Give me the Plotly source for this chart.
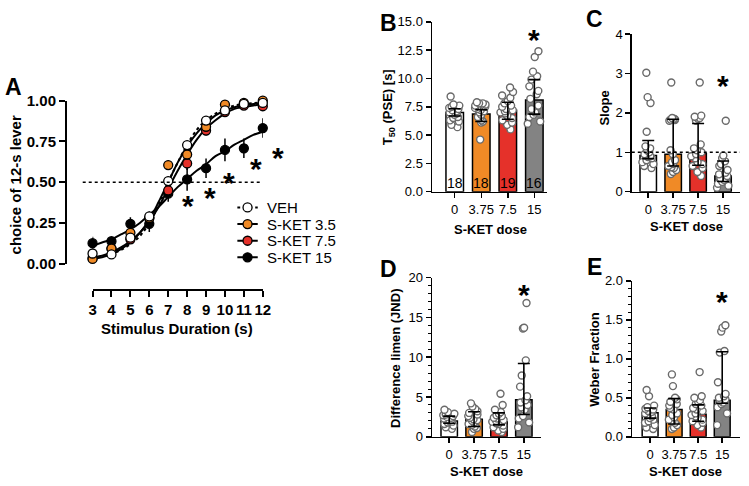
import plotly.graph_objects as go

W, H = 749, 486
FONT = "Liberation Sans, Arial, sans-serif"

# ---------------- Panel A data ----------------
DUR = [3, 4, 5, 6, 7, 8, 9, 10, 11, 12]
VEH = [0.063, 0.057, 0.16, 0.29, 0.507, 0.728, 0.878, 0.94, 0.98, 0.986]
VEH_SEM = [0.015, 0.01, 0.02, 0.03, 0.03, 0.025, 0.02, 0.015, 0.01, 0.01]
K35 = [0.03, 0.093, 0.19, 0.28, 0.605, 0.67, 0.84, 0.976, 0.986, 1.0]
K35_SEM = [0.01, 0.015, 0.02, 0.03, 0.03, 0.03, 0.02, 0.015, 0.01, 0.01]
K75 = [0.034, 0.093, 0.15, 0.28, 0.45, 0.615, 0.817, 0.93, 0.97, 0.966]
K75_SEM = [0.01, 0.015, 0.02, 0.03, 0.03, 0.04, 0.03, 0.02, 0.015, 0.015]
K15 = [0.126, 0.138, 0.245, 0.245, 0.43, 0.517, 0.586, 0.698, 0.708, 0.832]
K15_SEM = [0.04, 0.02, 0.04, 0.05, 0.05, 0.07, 0.06, 0.07, 0.06, 0.06]

FIT_X = [3, 3.5, 4, 4.5, 5, 5.5, 6, 6.5, 7, 7.5, 8, 8.5, 9, 9.5, 10, 10.5, 11, 11.5, 12]
FIT_VEH = [0.035, 0.045, 0.06, 0.085, 0.12, 0.17, 0.25, 0.36, 0.5, 0.62, 0.73, 0.82, 0.88,
           0.92, 0.95, 0.97, 0.98, 0.985, 0.99]
FIT_K35 = [0.03, 0.04, 0.06, 0.09, 0.13, 0.19, 0.27, 0.38, 0.5, 0.62, 0.72, 0.8, 0.86,
           0.91, 0.94, 0.96, 0.97, 0.98, 0.985]
FIT_K75 = [0.04, 0.05, 0.07, 0.1, 0.14, 0.19, 0.26, 0.35, 0.46, 0.57, 0.67, 0.76, 0.83,
           0.88, 0.92, 0.95, 0.96, 0.97, 0.98]
FIT_K15 = [0.11, 0.13, 0.15, 0.18, 0.21, 0.25, 0.3, 0.35, 0.41, 0.47, 0.52, 0.57, 0.61,
           0.66, 0.69, 0.73, 0.76, 0.79, 0.81]

SERIES_NAMES = ["VEH", "S-KET 3.5", "S-KET 7.5", "S-KET 15"]

# ---------------- Bar panels data ----------------
DOSES = ["0", "3.75", "7.5", "15"]

B_BAR = [7.0, 6.85, 7.2, 8.1]
B_LO = [6.68, 6.2, 6.4, 6.85]
B_HI = [7.33, 7.25, 7.9, 9.9]
B_DOTS = [
    [8.4, 7.7, 7.6, 7.5, 7.4, 7.3, 7.2, 7.1, 7.0, 7.0, 6.9, 6.8, 6.6, 6.5, 6.3, 6.2, 5.9, 5.7],
    [7.9, 7.8, 7.8, 7.7, 7.6, 7.5, 7.4, 7.3, 7.2, 7.1, 7.0, 6.8, 6.6, 6.5, 6.3, 6.2, 6.1, 4.6],
    [9.2, 8.8, 8.5, 8.3, 8.0, 7.8, 7.6, 7.5, 7.3, 7.2, 7.1, 7.0, 6.9, 6.7, 6.5, 6.3, 6.1, 5.9, 5.5],
    [12.4, 11.9, 10.6, 10.2, 9.9, 9.3, 8.9, 8.6, 8.2, 7.6, 7.3, 7.0, 6.8, 6.6, 6.2, 6.0],
]

C_BAR = [0.92, 0.95, 0.97, 0.4]
C_LO = [0.84, 0.65, 0.67, 0.26]
C_HI = [1.3, 1.84, 1.73, 0.78]
C_DOTS = [
    [3.02, 2.4, 2.25, 1.52, 1.15, 1.1, 1.05, 1.0, 0.95, 0.92, 0.9, 0.88, 0.85, 0.8, 0.75, 0.7, 0.65, 0.6],
    [2.77, 1.87, 1.85, 1.84, 1.83, 1.82, 1.8, 1.05, 0.95, 0.8, 0.75, 0.7, 0.65, 0.62, 0.6, 0.55, 0.5, 0.45],
    [2.77, 1.93, 1.9, 1.87, 1.85, 1.8, 1.2, 1.1, 1.05, 1.0, 0.95, 0.9, 0.85, 0.75, 0.7, 0.65, 0.6, 0.5, 0.4],
    [1.8, 0.92, 0.85, 0.77, 0.7, 0.65, 0.55, 0.48, 0.44, 0.4, 0.35, 0.3, 0.25, 0.2, 0.15, 0.1],
]

D_BAR = [2.0, 2.2, 1.9, 4.65]
D_LO = [1.7, 1.3, 1.5, 2.8]
D_HI = [2.6, 3.15, 3.0, 9.2]
D_DOTS = [
    [3.4, 3.1, 2.9, 2.8, 2.7, 2.6, 2.5, 2.4, 2.3, 2.2, 2.1, 2.0, 1.9, 1.8, 1.6, 1.4, 1.2, 1.0],
    [4.2, 3.8, 3.5, 3.2, 3.0, 2.8, 2.6, 2.4, 2.2, 2.1, 2.0, 1.8, 1.6, 1.5, 1.3, 1.1, 1.0, 0.6],
    [5.4, 4.0, 3.4, 3.1, 2.9, 2.7, 2.6, 2.4, 2.3, 2.1, 2.0, 1.9, 1.7, 1.6, 1.4, 1.2, 1.0, 0.8, 0.6],
    [16.8, 13.7, 13.6, 9.6, 7.7, 6.3, 5.1, 4.6, 4.3, 4.0, 3.7, 3.4, 2.6, 2.3, 1.8, 1.2],
]

E_BAR = [0.31, 0.35, 0.29, 0.47]
E_LO = [0.24, 0.165, 0.2, 0.43]
E_HI = [0.37, 0.49, 0.41, 1.09]
E_DOTS = [
    [0.6, 0.52, 0.4, 0.38, 0.36, 0.35, 0.33, 0.32, 0.3, 0.28, 0.26, 0.24, 0.22, 0.2, 0.18, 0.15, 0.12, 0.1],
    [0.8, 0.65, 0.5, 0.48, 0.45, 0.42, 0.4, 0.37, 0.35, 0.3, 0.28, 0.25, 0.22, 0.2, 0.18, 0.15, 0.12, 0.1],
    [0.83, 0.52, 0.5, 0.47, 0.45, 0.42, 0.4, 0.37, 0.35, 0.33, 0.3, 0.28, 0.26, 0.24, 0.22, 0.2, 0.18, 0.15, 0.12],
    [1.43, 1.4, 1.35, 1.1, 1.08, 0.7, 0.55, 0.52, 0.5, 0.48, 0.46, 0.44, 0.42, 0.38, 0.3, 0.15],
]

# ---------------- styles ----------------
C_WHITE, C_ORANGE, C_RED, C_BLACK, C_GRAY = "#ffffff", "#F08A26", "#E5312A", "#000000", "#838383"
BAR_COLORS = [C_WHITE, C_ORANGE, C_RED, C_GRAY]


def fx(px):
    return px / W


def fy(py):
    return 1 - py / H


fig = go.Figure()

# ---------------- Panel A ----------------
fits = [(FIT_K15, "solid"), (FIT_K75, "solid"), (FIT_K35, "solid"), (FIT_VEH, "dot")]
for vals, dash in fits:
    fig.add_trace(go.Scatter(x=FIT_X, y=vals, mode="lines", line=dict(color="black", width=2, dash=dash, shape="spline"),
                             showlegend=False, hoverinfo="skip", xaxis="x", yaxis="y"))

pts = [(K15, K15_SEM, C_BLACK), (K75, K75_SEM, C_RED), (K35, K35_SEM, C_ORANGE), (VEH, VEH_SEM, C_WHITE)]
for vals, sem, col in pts:
    fig.add_trace(go.Scatter(x=DUR, y=vals, mode="markers", cliponaxis=False,
                             marker=dict(size=9, color=col, line=dict(color="black", width=1.3)),
                             error_y=dict(type="data", array=sem, color="black", thickness=1.5, width=0),
                             showlegend=False, xaxis="x", yaxis="y"))

# manual legend (own hidden axis): one row per series
LEG_COLORS = [C_WHITE, C_ORANGE, C_RED, C_BLACK]
LEG_DASH = ["dot", "solid", "solid", "solid"]
for i, name in enumerate(SERIES_NAMES):
    fig.add_trace(go.Scatter(x=[0, 0.5, 1], y=[i, i, i], mode="lines", cliponaxis=False,
                             line=dict(color="black", width=2, dash=LEG_DASH[i]),
                             showlegend=False, hoverinfo="skip", xaxis="x6", yaxis="y6"))
    fig.add_trace(go.Scatter(x=[0.5], y=[i], mode="markers", cliponaxis=False, name=name,
                             marker=dict(size=9, color=LEG_COLORS[i], line=dict(color="black", width=1.3)),
                             showlegend=False, hoverinfo="name", xaxis="x6", yaxis="y6"))

# ---------------- Bar panels ----------------
panels = [
    ("2", B_BAR, B_LO, B_HI, B_DOTS),
    ("3", C_BAR, C_LO, C_HI, C_DOTS),
    ("4", D_BAR, D_LO, D_HI, D_DOTS),
    ("5", E_BAR, E_LO, E_HI, E_DOTS),
]
POS = list(range(len(DOSES)))
for ax, bar, lo, hi, dots in panels:
    fig.add_trace(go.Bar(x=POS, y=bar, width=0.66, marker=dict(color=BAR_COLORS, line=dict(color="black", width=1.5)),
                         showlegend=False, xaxis="x" + ax, yaxis="y" + ax))
    bx, by = [], []
    for i, d in enumerate(dots):
        bx += [POS[i]] * len(d)
        by += d
    fig.add_trace(go.Box(x=bx, y=by, boxpoints="all", jitter=0.85, pointpos=0, width=0.66,
                         fillcolor="rgba(0,0,0,0)", line=dict(color="rgba(0,0,0,0)", width=0),
                         marker=dict(size=7, color="white", line=dict(color="#6a6a6a", width=1.4)),
                         showlegend=False, xaxis="x" + ax, yaxis="y" + ax))
    fig.add_trace(go.Scatter(x=POS, y=bar, mode="markers", marker=dict(size=1, color="rgba(0,0,0,0)"),
                             error_y=dict(type="data", symmetric=False,
                                          array=[h - m for h, m in zip(hi, bar)],
                                          arrayminus=[m - l for m, l in zip(bar, lo)],
                                          color="black", thickness=1.6, width=6),
                             showlegend=False, xaxis="x" + ax, yaxis="y" + ax))

# ---------------- axes ----------------
bold15 = dict(family=FONT, size=15, color="black", weight="bold")
reg13 = dict(family=FONT, size=13, color="black")
common = dict(showgrid=False, zeroline=False, showline=True, linecolor="black", ticks="outside",
              tickcolor="black", fixedrange=True)

layout = dict(
    width=W, height=H, margin=dict(l=0, r=0, t=0, b=0), paper_bgcolor="white", plot_bgcolor="rgba(0,0,0,0)",
    font=dict(family=FONT, color="black"), barmode="overlay", boxmode="overlay", showlegend=False,
    xaxis=dict(**common, domain=[fx(90), fx(263)], range=[3, 12], anchor="free", position=fy(291),
               tickvals=DUR, linewidth=2, tickwidth=2, ticklen=6, tickfont=bold15),
    yaxis=dict(**common, domain=[fy(264), fy(95)], range=[0, 1], anchor="free", position=fx(63),
               tickvals=[0, 0.25, 0.5, 0.75, 1.0], tickformat=".2f", linewidth=2, tickwidth=2, ticklen=6,
               tickfont=bold15),
    xaxis6=dict(domain=[fx(237), fx(258)], range=[0, 1], visible=False, fixedrange=True, anchor="y6"),
    yaxis6=dict(domain=[fy(266), fy(197)], range=[3.5, -0.5], visible=False, fixedrange=True, anchor="x6"),
)

bar_axes = {
    "2": dict(xd=[435, 552], xr=[-0.855, 3.483], yd=[189.3, 13.3], yr=[0, 15], dt=2.5, fmt=".1f", minor=None),
    "3": dict(xd=[638, 748], xr=[-0.66, 3.68], yd=[189.3, 26], yr=[0, 4], dt=1, fmt="d", minor=None),
    "4": dict(xd=[435, 546], xr=[-0.69, 3.70], yd=[443.3, 278.3], yr=[0, 20], dt=5, fmt="d", minor=1),
    "5": dict(xd=[638.3, 748], xr=[-0.75, 3.74], yd=[443.3, 281.7], yr=[0, 2], dt=0.5, fmt=".1f", minor=0.1),
}
for ax, a in bar_axes.items():
    layout["xaxis" + ax] = dict(**common, domain=[fx(a["xd"][0]), fx(a["xd"][1])], range=a["xr"], anchor="y" + ax,
                                tickvals=POS, ticktext=DOSES, linewidth=1.5, tickwidth=1.5, ticklen=5,
                                tickfont=reg13)
    yd = dict(**common, domain=[fy(a["yd"][0]), fy(a["yd"][1])], range=a["yr"], anchor="x" + ax,
              dtick=a["dt"], tick0=0, tickformat=a["fmt"], linewidth=1.5, tickwidth=1.5, ticklen=5,
              tickfont=reg13)
    if a["minor"]:
        yd["minor"] = dict(dtick=a["minor"], ticks="outside", ticklen=3, tickwidth=1, tickcolor="black",
                           showgrid=False)
    layout["yaxis" + ax] = yd

fig.update_layout(**layout)

# dotted reference lines
fig.add_shape(type="line", xref="paper", yref="y", x0=fx(80), x1=fx(260), y0=0.5, y1=0.5,
              line=dict(color="black", width=1.5, dash="dot"))
fig.add_shape(type="line", xref="x3 domain", yref="y3", x0=0, x1=1, y0=1, y1=1,
              line=dict(color="black", width=1.5, dash="dot"))

ann = []


def txt(x, y, s, size, bold=True, angle=0, xref="paper", yref="paper", yshift=0, xanchor="center"):
    ann.append(dict(x=x, y=y, xref=xref, yref=yref, text=s, showarrow=False, textangle=angle,
                    xanchor=xanchor, yanchor="middle", yshift=yshift,
                    font=dict(family=FONT, size=size, color="black", weight="bold" if bold else "normal")))


# legend labels
for i, name in enumerate(SERIES_NAMES):
    txt(fx(265), i, name, 15, bold=False, yref="y6", xanchor="left")

# panel letters
for L, px, py in [("A", 10, 81), ("B", 391, 14), ("C", 600, 10), ("D", 391, 269.5), ("E", 600, 267.5)]:
    txt(fx(px), fy(py), L, 23)

# axis titles
txt(fx(12), fy(182), "choice of 12-s lever", 15, angle=-90)
txt(fx(176), fy(331), "Stimulus Duration (s)", 15)
txt(fx(391), fy(102), "T<sub>50</sub> (PSE) [s]", 13, angle=-90)
txt(fx(610), fy(103), "Slope", 13, angle=-90)
txt(fx(398), fy(362), "Difference limen (JND)", 13, angle=-90)
txt(fx(600), fy(363), "Weber Fraction", 13, angle=-90)
txt(fx(494), fy(228), "S-KET dose", 13)
txt(fx(693.5), fy(225), "S-KET dose", 13)
txt(fx(490.5), fy(479), "S-KET dose", 13)
txt(fx(693), fy(479), "S-KET dose", 13)

# n counts in B
for i, d in enumerate(B_DOTS):
    txt(POS[i], 0.8, str(len(d)), 14, bold=False, xref="x2", yref="y2")

# asterisks
STAR = 30
SH = -7
for x, y in [(8.05, 0.40), (9.2, 0.45), (10.2, 0.54), (11.65, 0.63)]:
    txt(x, y, "*", STAR, xref="x", yref="y", yshift=SH)
txt(fx(278), fy(147), "*", STAR, yshift=SH)
txt(3, 14.1, "*", STAR, xref="x2", yref="y2", yshift=SH)
txt(3, 2.87, "*", STAR, xref="x3", yref="y3", yshift=SH)
txt(3, 18.8, "*", STAR, xref="x4", yref="y4", yshift=SH)
txt(3, 1.82, "*", STAR, xref="x5", yref="y5", yshift=SH)

fig.update_layout(annotations=ann)
fig.write_html("out.html", config={"displayModeBar": False, "staticPlot": True},
               post_script="document.body.style.margin='0';")
